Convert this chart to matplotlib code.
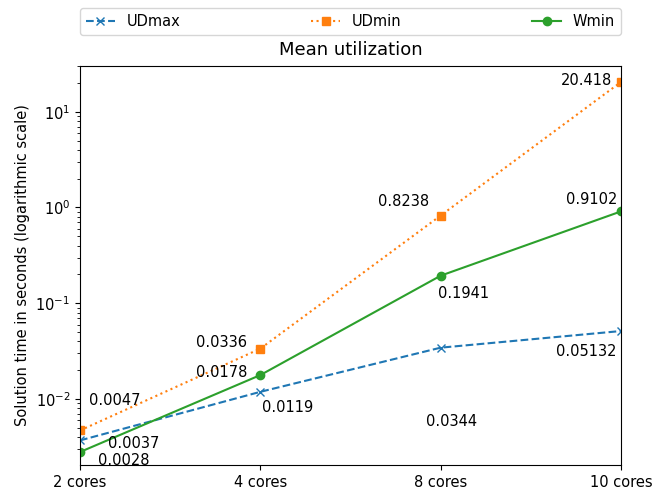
import matplotlib
matplotlib.use("Agg")
import matplotlib.pyplot as plt

cores = ["2 cores", "4 cores", "8 cores", "10 cores"]
ud_max = [0.0037, 0.0119, 0.0344, 0.05132]
ud_min = [0.0047, 0.0336, 0.8238, 20.418]
w_min = [0.0028, 0.0178, 0.1941, 0.9102]

# label placement for each point: (dx px, dy px, horizontal alignment)
ud_max_pos = [(28, -3, "left"), (2, -16, "left"), (-15, -74, "left"), (-4, -20, "right")]
ud_min_pos = [(9, 30, "left"), (-13, 6, "right"), (-12, 14, "right"), (-9, 2, "right")]
w_min_pos = [(18, -8, "left"), (-13, 3, "right"), (-3, -18, "left"), (-4, 12, "right")]

plt.rcParams["font.size"] = 10.5

fig = plt.figure(figsize=(6.54, 4.97), dpi=100)
ax = fig.add_axes([0.1223, 0.0644, 0.8272, 0.8028])

x = list(range(len(cores)))
ax.plot(x, ud_max, "x--", color="C0", label="UDmax")
ax.plot(x, ud_min, "s:", color="C1", label="UDmin")
ax.plot(x, w_min, "o-", color="C2", label="Wmin")

for values, pos in [(ud_max, ud_max_pos), (ud_min, ud_min_pos), (w_min, w_min_pos)]:
    for xi, v, (dx, dy, ha) in zip(x, values, pos):
        ax.annotate(str(v), (xi, v), xytext=(dx, dy), textcoords="offset pixels",
                    ha=ha, va="center", annotation_clip=False)

ax.set_yscale("log")
ax.set_ylim(0.00205, 30)
ax.set_xlim(0, 3)
ax.set_xticks(x)
ax.set_xticklabels(cores)
ax.set_ylabel("Solution time in seconds (logarithmic scale)")
ax.set_title("Mean utilization", fontsize=13, pad=8)
ax.legend(loc="lower left", bbox_to_anchor=(0, 1.078, 1, 0.08), mode="expand",
          ncol=3, borderaxespad=0)

fig.savefig("out.png", dpi=100)
